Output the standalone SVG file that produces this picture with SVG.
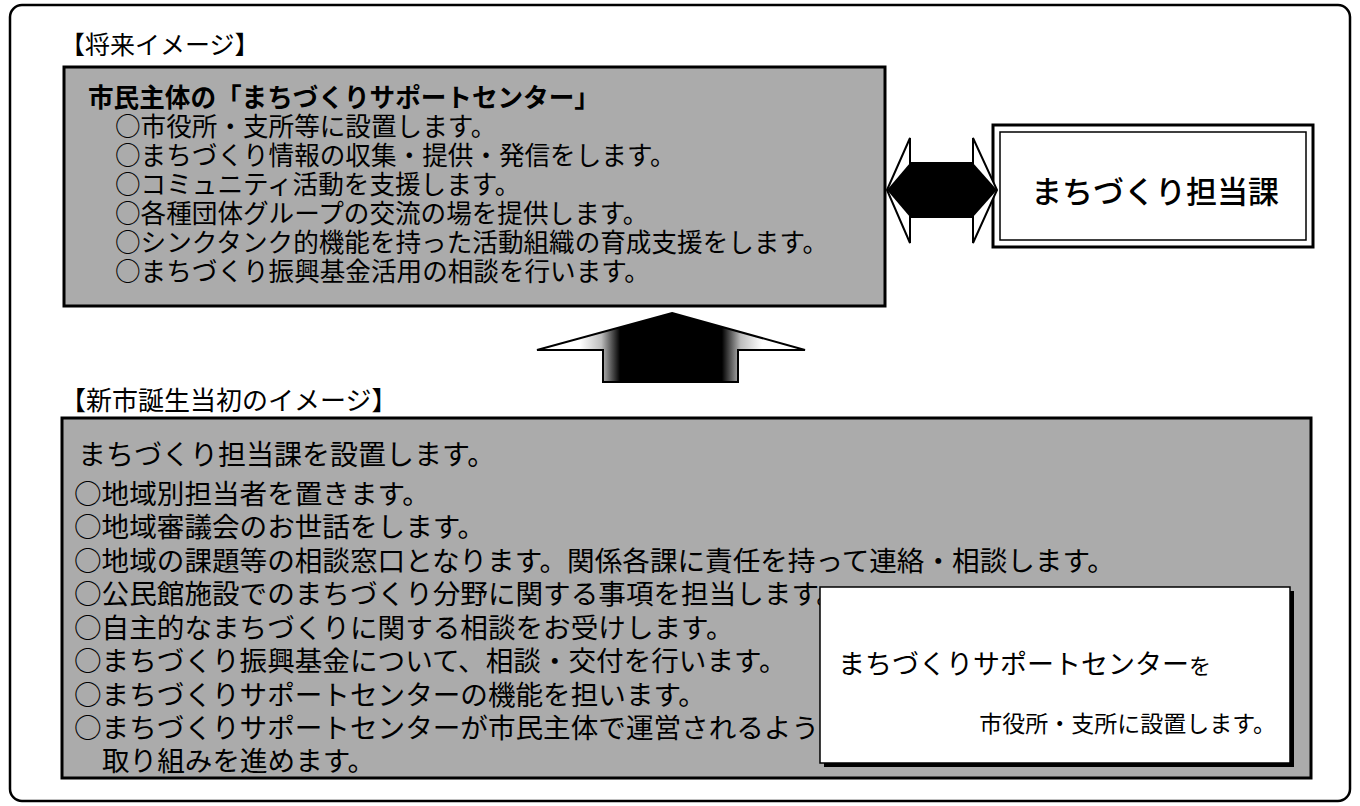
<svg xmlns="http://www.w3.org/2000/svg" width="1360" height="806" viewBox="0 0 1360 806">
<style>
text{font-family:"Noto Sans CJK JP","Noto Sans",sans-serif;fill:#000}
.shade{fill:#ababab;stroke:#000;stroke-width:3}
.u{font-size:25.6px}
.l{font-size:27.6px}
.ttl{font-size:25px}
</style>
<defs>
<linearGradient id="upg" gradientUnits="userSpaceOnUse" x1="537" y1="0" x2="805" y2="0">
<stop offset="0" stop-color="#fff"/>
<stop offset="0.16" stop-color="#fff"/>
<stop offset="0.24" stop-color="#bdbdbd"/>
<stop offset="0.31" stop-color="#000"/>
<stop offset="0.69" stop-color="#000"/>
<stop offset="0.76" stop-color="#bdbdbd"/>
<stop offset="0.84" stop-color="#fff"/>
<stop offset="1" stop-color="#fff"/>
</linearGradient>
</defs>
<rect x="0" y="0" width="1360" height="806" fill="#fff"/>
<rect id="frame" x="10" y="5" width="1340" height="796" rx="12" fill="none" stroke="#000" stroke-width="2.5"/>

<g id="title-future"><text class="ttl" x="60" y="54">【将来イメージ】</text></g>

<g id="node-center">
<rect class="shade" x="64" y="67" width="821" height="239"/>
<text class="u" x="88" y="107" font-weight="700">市民主体の「まちづくりサポートセンター」</text>
<text class="u" x="115" y="136">○市役所・支所等に設置します。</text>
<text class="u" x="115" y="165">○まちづくり情報の収集・提供・発信をします。</text>
<text class="u" x="115" y="194">○コミュニティ活動を支援します。</text>
<text class="u" x="115" y="223">○各種団体グループの交流の場を提供します。</text>
<text class="u" x="115" y="252">○シンクタンク的機能を持った活動組織の育成支援をします。</text>
<text class="u" x="115" y="281">○まちづくり振興基金活用の相談を行います。</text>
</g>

<g id="node-dept">
<rect x="993" y="125" width="320" height="122" fill="#fff" stroke="#000" stroke-width="3"/>
<rect x="1000" y="132" width="306" height="108" fill="none" stroke="#000" stroke-width="1.5"/>
<text x="1155" y="203" font-size="31" font-weight="500" text-anchor="middle">まちづくり担当課</text>
</g>

<g id="connectors">
<polygon points="887,190 910,138 910,163 973,163 973,138 997,190 973,243 973,217 910,217 910,243" fill="#fff" stroke="#000" stroke-width="2"/>
<polygon points="887,190 910,163 973,163 997,190 973,217 910,217" fill="#000"/>
<polygon points="672,313 805,350 738,350 738,382 603,382 603,350 537,350" fill="url(#upg)" stroke="#000" stroke-width="2"/>
</g>

<g id="title-initial"><text x="60" y="410" font-size="26">【新市誕生当初のイメージ】</text></g>

<g id="node-initial">
<rect class="shade" x="62" y="418" width="1249" height="360"/>
<text x="78" y="465" font-size="28">まちづくり担当課を設置します。</text>
<text class="l" x="74" y="504">○地域別担当者を置きます。</text>
<text class="l" x="74" y="537">○地域審議会のお世話をします。</text>
<text class="l" x="74" y="571">○地域の課題等の相談窓口となります。関係各課に責任を持って連絡・相談します。</text>
<text class="l" x="74" y="604">○公民館施設でのまちづくり分野に関する事項を担当します。</text>
<text class="l" x="74" y="638">○自主的なまちづくりに関する相談をお受けします。</text>
<text class="l" x="74" y="671">○まちづくり振興基金について、相談・交付を行います。</text>
<text class="l" x="74" y="705">○まちづくりサポートセンターの機能を担います。</text>
<text class="l" x="74" y="738">○まちづくりサポートセンターが市民主体で運営されるよう、</text>
<text class="l" x="102" y="771">取り組みを進めます。</text>
</g>

<g id="node-support">
<rect x="824" y="591" width="470" height="176" fill="#000"/>
<rect x="820" y="587" width="470" height="176" fill="#fff" stroke="#000" stroke-width="1.5"/>
<text x="838" y="674"><tspan font-size="27">まちづくりサポートセンター</tspan><tspan font-size="22">を</tspan></text>
<text x="1276" y="732" font-size="23" text-anchor="end">市役所・支所に設置します。</text>
</g>
</svg>
